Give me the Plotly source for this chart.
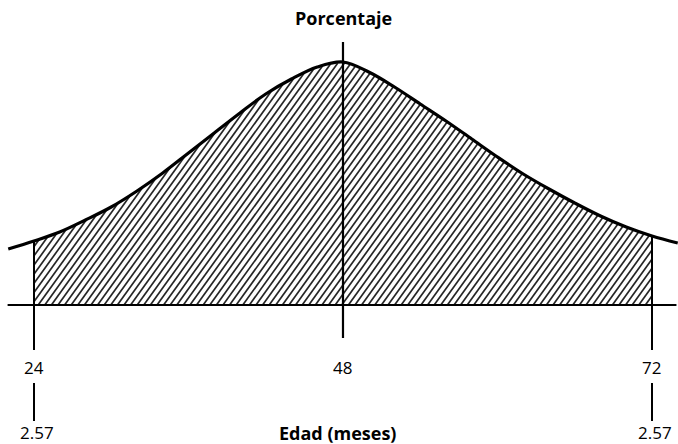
import numpy as np
import plotly.graph_objects as go

# ---- data ----
edad_meses = [22, 24, 26, 28, 30, 32, 34, 36, 38, 40, 42, 44, 46, 48,
              50, 52, 54, 56, 58, 60, 62, 64, 66, 68, 70, 72, 74]
porcentaje = [56, 64, 73, 85, 98, 114, 132, 152, 172, 192, 211, 226, 238, 243,
              233, 218, 201, 184, 166, 148, 131, 116, 102, 89, 78, 69, 62]
tick_meses = [24, 48, 72]
tick_labels = ["24", "48", "72"]
z_meses = [24, 72]
z_labels = ["2.57", "2.57"]
x_title = "Edad (meses)"
y_title = "Porcentaje"

lo, hi = 24, 72
xs = np.array(edad_meses, dtype=float)
ys = np.array(porcentaje, dtype=float)

# ---- hatch lines clipped to the area under the curve between lo and hi ----
px_per_month = 678 / (74.02 - 21.36)
slope = 0.72 / px_per_month        # months per height unit (steep "/" hatching)
spacing = 6.6 / px_per_month       # months between hatch lines
hx, hy = [], []
b = lo - 260 * slope
while b <= hi:
    t = np.arange(0, 260, 0.25)
    x = b + t * slope
    yc = np.interp(x, xs, ys)
    valid = (x >= lo) & (x <= hi) & (t <= yc)
    if valid.any():
        tv = t[valid]
        xv = x[valid]
        hx += [xv[0], xv[-1], None]
        hy += [tv[0], tv[-1], None]
    b += spacing

fig = go.Figure()
fig.add_trace(go.Scatter(x=hx, y=hy, mode="lines",
                         line=dict(color="#262626", width=1.7),
                         hoverinfo="skip"))
fig.add_trace(go.Scatter(x=edad_meses, y=porcentaje, mode="lines",
                         line=dict(color="black", width=3.2, shape="spline"),
                         hoverinfo="skip"))

shapes = []
# baseline
shapes.append(dict(type="line", x0=21.95, x1=73.9, y0=0, y1=0,
                   line=dict(color="black", width=2)))
# side verticals from the curve down past the baseline, and below the tick label
for m in z_meses:
    top = float(np.interp(m, xs, ys))
    shapes.append(dict(type="line", x0=m, x1=m, y0=top, y1=-45,
                       line=dict(color="black", width=2)))
    shapes.append(dict(type="line", x0=m, x1=m, y0=-78, y1=-116,
                       line=dict(color="black", width=2)))
# centre vertical
shapes.append(dict(type="line", x0=48, x1=48, y0=263, y1=-33,
                   line=dict(color="black", width=2.2)))

annotations = []
for m, lab in zip(tick_meses, tick_labels):
    annotations.append(dict(x=m, y=-62, text=lab, showarrow=False,
                            font=dict(family="Open Sans", size=17, color="black")))
for m, lab in zip(z_meses, z_labels):
    annotations.append(dict(x=m + 0.2, y=-127, text=lab, showarrow=False,
                            font=dict(family="Open Sans", size=17, color="black")))
annotations.append(dict(x=47.6, y=-128, text="<b>" + x_title + "</b>", showarrow=False,
                        font=dict(family="Open Sans", size=18, color="black")))
annotations.append(dict(x=48.05, y=287, text="<b>" + y_title + "</b>", showarrow=False,
                        font=dict(family="Open Sans", size=18, color="black")))

fig.update_layout(
    width=678, height=444,
    margin=dict(l=0, r=0, t=0, b=0),
    paper_bgcolor="white", plot_bgcolor="white",
    showlegend=False,
    shapes=shapes, annotations=annotations,
    xaxis=dict(range=[21.36, 74.02], visible=False, fixedrange=True),
    yaxis=dict(range=[-139, 305], visible=False, fixedrange=True),
)
fig.write_html("out.html",
               config={"displayModeBar": False},
               post_script="document.body.style.margin='0';document.body.style.padding='0';")
